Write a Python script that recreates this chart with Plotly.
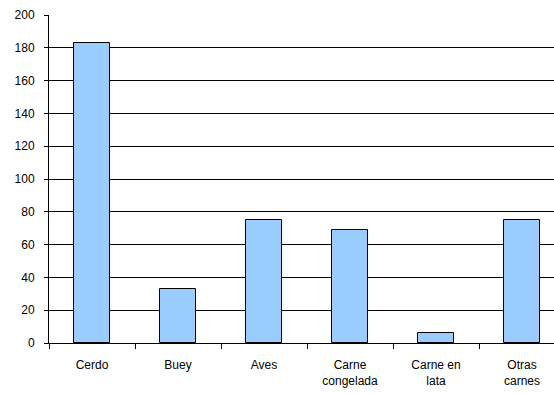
import plotly.graph_objects as go

# Meat categories and their values
categories = ["Cerdo", "Buey", "Aves", "Carne<br>congelada", "Carne en<br>lata", "Otras<br>carnes"]
values = [183, 33, 75, 69, 6, 75]
y_ticks = [0, 20, 40, 60, 80, 100, 120, 140, 160, 180, 200]

fig = go.Figure(
    go.Bar(
        x=categories,
        y=values,
        width=0.41,
        marker=dict(color="#99CCFF", line=dict(color="#000000", width=1)),
    )
)

font = dict(family="Liberation Sans, Arial, sans-serif", size=12, color="#000000")

fig.update_layout(
    width=554,
    height=394,
    margin=dict(l=49, r=0, t=15, b=51),
    paper_bgcolor="white",
    plot_bgcolor="white",
    showlegend=False,
    bargap=0,
    font=font,
)

fig.update_xaxes(
    type="category",
    range=[-0.5, -0.5 + 505 / 86],
    showline=True,
    linecolor="#000000",
    linewidth=1,
    showgrid=False,
    ticks="outside",
    tickson="boundaries",
    ticklen=5,
    tickcolor="#000000",
    ticklabelstandoff=11,
    tickfont=font,
)

fig.update_yaxes(
    range=[0, 200],
    tickvals=y_ticks,
    showline=True,
    linecolor="#000000",
    linewidth=1,
    showgrid=True,
    gridcolor="#000000",
    gridwidth=1,
    zeroline=False,
    ticks="outside",
    ticklen=4,
    tickcolor="#000000",
    ticklabelstandoff=7,
    tickfont=font,
)

fig.write_html("out.html")
